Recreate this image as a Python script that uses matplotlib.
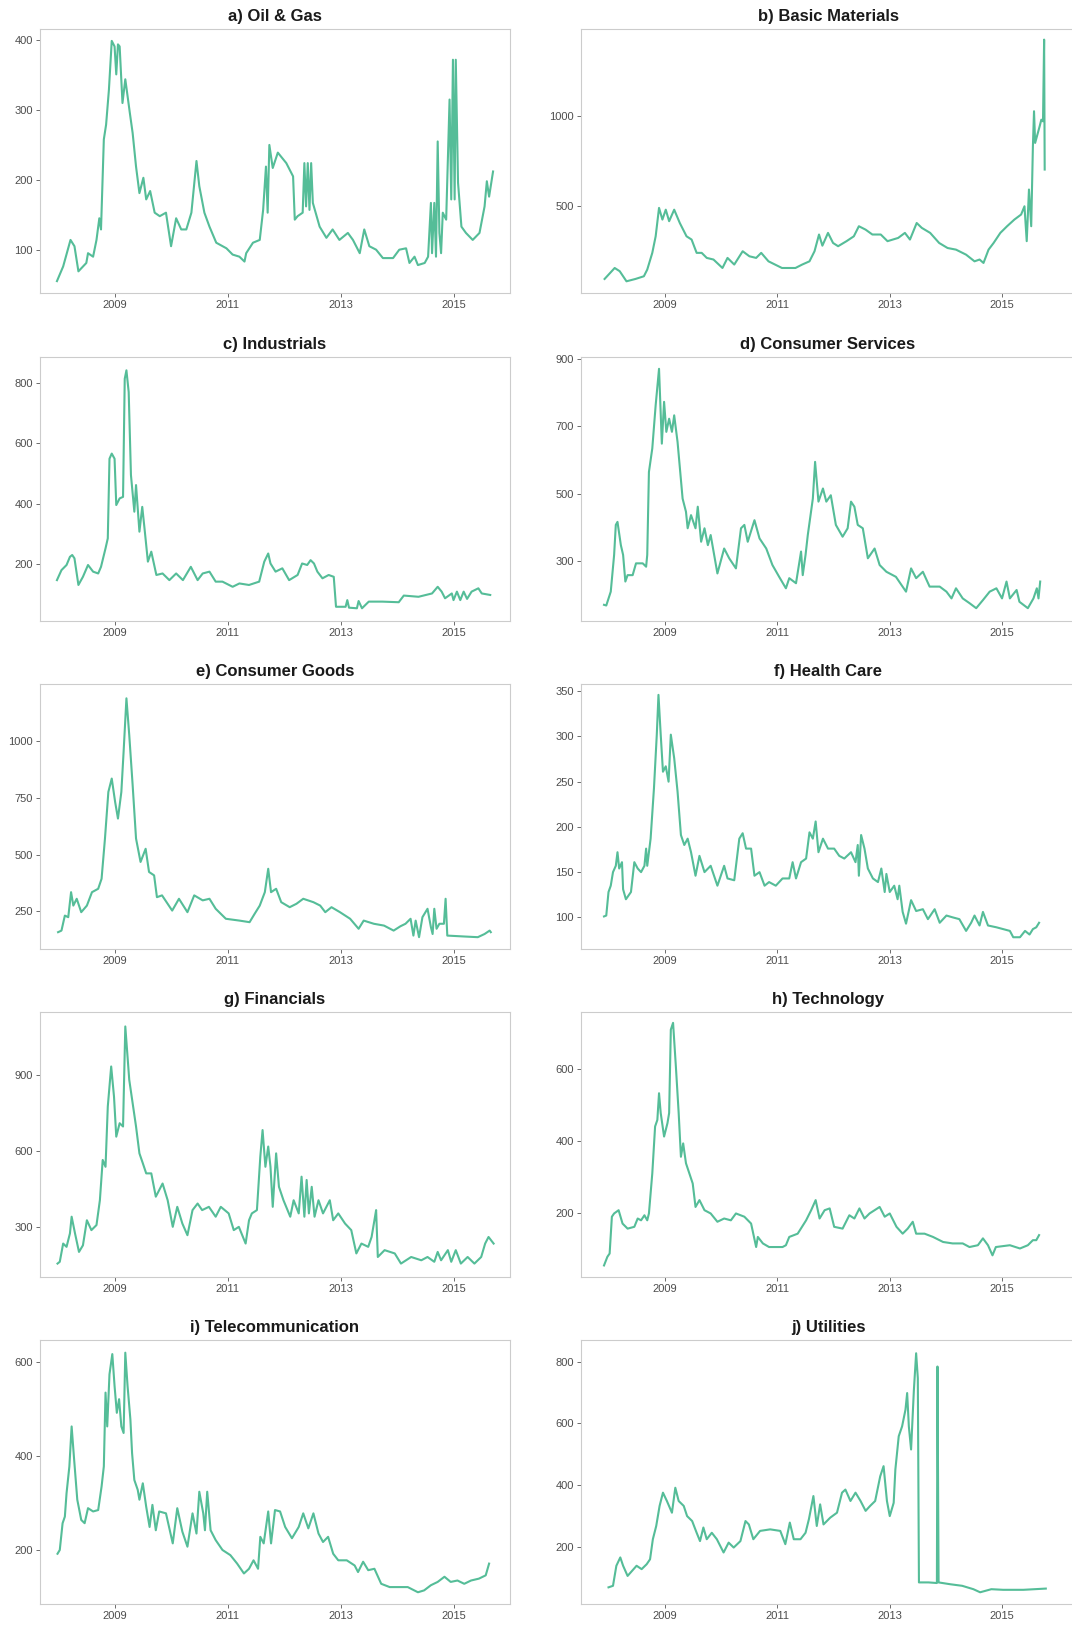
import matplotlib
matplotlib.use("Agg")
import matplotlib.pyplot as plt

plt.rcParams['font.family'] = ['Liberation Sans', 'DejaVu Sans']

# weekly sector series, (decimal year, value)
oil_gas = [(2007.98, 55), (2008.09, 76), (2008.22, 114), (2008.29, 105), (2008.36, 69), (2008.50, 81),
           (2008.53, 95), (2008.62, 90), (2008.68, 114), (2008.73, 145), (2008.76, 129), (2008.81, 258),
           (2008.85, 279), (2008.90, 329), (2008.95, 399), (2009.00, 391), (2009.03, 351), (2009.06, 394),
           (2009.09, 391), (2009.14, 310), (2009.19, 344), (2009.27, 296), (2009.32, 267), (2009.38, 219),
           (2009.44, 181), (2009.51, 203), (2009.56, 172), (2009.63, 184), (2009.71, 153), (2009.80, 148),
           (2009.91, 153), (2010.00, 105), (2010.09, 145), (2010.18, 129), (2010.27, 129), (2010.36, 153),
           (2010.45, 227), (2010.50, 191), (2010.59, 153), (2010.68, 133), (2010.80, 110), (2010.98, 102),
           (2011.09, 93), (2011.21, 90), (2011.30, 83), (2011.33, 95), (2011.45, 110), (2011.57, 114),
           (2011.63, 157), (2011.68, 219), (2011.71, 153), (2011.74, 250), (2011.80, 217), (2011.89, 239),
           (2012.04, 224), (2012.16, 205), (2012.19, 143), (2012.24, 148), (2012.33, 153), (2012.36, 224),
           (2012.39, 162), (2012.42, 224), (2012.45, 157), (2012.48, 224), (2012.51, 167), (2012.63, 133),
           (2012.75, 117), (2012.86, 129), (2012.98, 114), (2013.13, 124), (2013.22, 114), (2013.34, 95),
           (2013.42, 129), (2013.51, 105), (2013.63, 100), (2013.75, 88), (2013.93, 88), (2014.04, 100),
           (2014.16, 102), (2014.22, 81), (2014.31, 90), (2014.37, 78), (2014.49, 81), (2014.55, 90),
           (2014.60, 167), (2014.62, 95), (2014.66, 167), (2014.69, 90), (2014.72, 255), (2014.75, 124),
           (2014.78, 95), (2014.81, 153), (2014.87, 143), (2014.93, 315), (2014.96, 172), (2014.99, 372),
           (2015.02, 172), (2015.04, 372), (2015.08, 196), (2015.14, 133), (2015.22, 124), (2015.34, 114),
           (2015.46, 124), (2015.55, 162), (2015.59, 198), (2015.63, 176), (2015.70, 212)]

basic_materials = [(2007.92, 96), (2008.10, 157), (2008.19, 139), (2008.31, 83), (2008.47, 96), (2008.62, 111),
                   (2008.68, 148), (2008.77, 241), (2008.83, 333), (2008.89, 491), (2008.95, 426), (2009.01, 481),
                   (2009.07, 417), (2009.16, 481), (2009.26, 407), (2009.38, 333), (2009.47, 315), (2009.56, 241),
                   (2009.65, 241), (2009.74, 213), (2009.86, 204), (2010.02, 157), (2010.11, 213), (2010.23, 176),
                   (2010.38, 250), (2010.50, 222), (2010.62, 213), (2010.71, 241), (2010.84, 194), (2011.08, 157),
                   (2011.32, 157), (2011.44, 176), (2011.57, 194), (2011.66, 250), (2011.74, 343), (2011.80, 281),
                   (2011.90, 352), (2011.99, 296), (2012.08, 278), (2012.23, 306), (2012.36, 333), (2012.45, 389),
                   (2012.57, 370), (2012.69, 343), (2012.84, 343), (2012.96, 306), (2013.15, 324), (2013.27, 352),
                   (2013.36, 315), (2013.48, 407), (2013.57, 380), (2013.72, 352), (2013.88, 296), (2014.03, 268),
                   (2014.18, 259), (2014.36, 231), (2014.51, 194), (2014.60, 204), (2014.67, 185), (2014.76, 259),
                   (2014.85, 296), (2014.97, 352), (2015.09, 389), (2015.22, 426), (2015.34, 454), (2015.40, 500),
                   (2015.44, 306), (2015.48, 593), (2015.52, 389), (2015.55, 833), (2015.57, 1028), (2015.59, 852),
                   (2015.67, 944), (2015.70, 981), (2015.73, 972), (2015.75, 1426), (2015.76, 704)]

industrials = [(2007.98, 148), (2008.06, 181), (2008.15, 198), (2008.21, 225), (2008.25, 231), (2008.29, 220),
               (2008.36, 132), (2008.44, 159), (2008.53, 198), (2008.62, 176), (2008.71, 170), (2008.76, 192),
               (2008.84, 253), (2008.88, 286), (2008.91, 549), (2008.95, 566), (2009.00, 549), (2009.03, 396),
               (2009.09, 418), (2009.15, 423), (2009.18, 813), (2009.21, 841), (2009.25, 769), (2009.29, 495),
               (2009.35, 374), (2009.38, 462), (2009.44, 308), (2009.49, 390), (2009.53, 319), (2009.59, 209),
               (2009.65, 242), (2009.74, 165), (2009.85, 170), (2009.97, 148), (2010.09, 170), (2010.21, 148),
               (2010.35, 192), (2010.47, 148), (2010.56, 170), (2010.68, 176), (2010.79, 143), (2010.91, 143),
               (2011.09, 126), (2011.21, 137), (2011.38, 132), (2011.56, 143), (2011.65, 209), (2011.72, 236),
               (2011.76, 203), (2011.85, 176), (2011.97, 187), (2012.09, 148), (2012.24, 165), (2012.32, 203),
               (2012.41, 198), (2012.47, 214), (2012.53, 203), (2012.59, 176), (2012.68, 154), (2012.79, 165),
               (2012.88, 159), (2012.92, 60), (2013.09, 60), (2013.12, 82), (2013.15, 57), (2013.29, 55),
               (2013.32, 79), (2013.38, 55), (2013.50, 77), (2013.74, 77), (2014.03, 75), (2014.12, 97),
               (2014.38, 93), (2014.62, 104), (2014.72, 126), (2014.79, 110), (2014.85, 88), (2014.97, 104),
               (2015.00, 82), (2015.06, 110), (2015.12, 82), (2015.18, 110), (2015.24, 86), (2015.32, 110),
               (2015.44, 121), (2015.50, 104), (2015.65, 99)]

consumer_services = [(2007.91, 170), (2007.95, 168), (2008.03, 209), (2008.09, 318), (2008.12, 407), (2008.15, 416),
                     (2008.21, 347), (2008.25, 318), (2008.29, 239), (2008.33, 258), (2008.42, 258), (2008.48, 293),
                     (2008.60, 293), (2008.66, 283), (2008.68, 318), (2008.71, 564), (2008.77, 634), (2008.83, 762),
                     (2008.89, 870), (2008.94, 648), (2008.98, 772), (2009.02, 683), (2009.07, 722), (2009.12, 683),
                     (2009.16, 732), (2009.22, 653), (2009.31, 485), (2009.37, 446), (2009.40, 397), (2009.46, 436),
                     (2009.54, 397), (2009.58, 461), (2009.64, 357), (2009.70, 397), (2009.76, 347), (2009.81, 377),
                     (2009.93, 263), (2010.05, 337), (2010.14, 308), (2010.26, 278), (2010.35, 397), (2010.41, 407),
                     (2010.47, 357), (2010.59, 421), (2010.68, 367), (2010.80, 337), (2010.91, 288), (2011.03, 253),
                     (2011.15, 219), (2011.21, 249), (2011.33, 234), (2011.42, 328), (2011.45, 258), (2011.50, 318),
                     (2011.54, 377), (2011.63, 485), (2011.67, 594), (2011.73, 476), (2011.81, 515), (2011.87, 476),
                     (2011.95, 495), (2012.04, 407), (2012.16, 372), (2012.25, 397), (2012.31, 476), (2012.37, 461),
                     (2012.43, 407), (2012.52, 397), (2012.61, 308), (2012.73, 337), (2012.82, 288), (2012.94, 268),
                     (2013.11, 253), (2013.29, 209), (2013.38, 278), (2013.47, 249), (2013.59, 268), (2013.71, 224),
                     (2013.89, 224), (2014.01, 209), (2014.10, 189), (2014.18, 219), (2014.30, 189), (2014.42, 175),
                     (2014.54, 160), (2014.66, 184), (2014.78, 209), (2014.90, 219), (2015.00, 189), (2015.08, 239),
                     (2015.14, 189), (2015.26, 214), (2015.31, 179), (2015.46, 160), (2015.56, 189), (2015.62, 219),
                     (2015.65, 189), (2015.68, 239)]

consumer_goods = [(2008.00, 159), (2008.06, 166), (2008.12, 232), (2008.18, 225), (2008.23, 335), (2008.27, 276),
                  (2008.33, 306), (2008.41, 247), (2008.51, 276), (2008.60, 335), (2008.71, 350), (2008.77, 394),
                  (2008.83, 571), (2008.89, 776), (2008.95, 835), (2009.01, 732), (2009.06, 659), (2009.12, 776),
                  (2009.16, 953), (2009.21, 1188), (2009.26, 1026), (2009.32, 806), (2009.38, 571), (2009.46, 468),
                  (2009.55, 526), (2009.61, 424), (2009.70, 409), (2009.75, 313), (2009.84, 321), (2010.02, 254),
                  (2010.14, 306), (2010.29, 247), (2010.41, 321), (2010.56, 299), (2010.68, 306), (2010.79, 262),
                  (2010.97, 218), (2011.21, 210), (2011.39, 203), (2011.48, 240), (2011.57, 276), (2011.66, 335),
                  (2011.72, 438), (2011.77, 335), (2011.86, 350), (2011.95, 291), (2012.10, 269), (2012.22, 284),
                  (2012.34, 306), (2012.52, 291), (2012.64, 276), (2012.73, 247), (2012.84, 269), (2012.99, 247),
                  (2013.17, 218), (2013.32, 174), (2013.41, 210), (2013.59, 196), (2013.77, 188), (2013.94, 166),
                  (2014.06, 185), (2014.15, 196), (2014.24, 218), (2014.29, 144), (2014.33, 210), (2014.39, 137),
                  (2014.45, 225), (2014.54, 262), (2014.60, 181), (2014.63, 151), (2014.66, 262), (2014.70, 174),
                  (2014.75, 196), (2014.83, 196), (2014.86, 306), (2014.89, 144), (2015.19, 140), (2015.43, 137),
                  (2015.55, 151), (2015.64, 166), (2015.66, 159)]

health_care = [(2007.91, 101), (2007.95, 102), (2007.99, 128), (2008.03, 135), (2008.07, 150), (2008.12, 157),
               (2008.15, 172), (2008.18, 154), (2008.23, 161), (2008.25, 131), (2008.30, 120), (2008.39, 128),
               (2008.45, 161), (2008.51, 154), (2008.57, 150), (2008.63, 157), (2008.66, 176), (2008.68, 157),
               (2008.74, 187), (2008.80, 243), (2008.85, 302), (2008.88, 346), (2008.92, 302), (2008.96, 261),
               (2009.01, 267), (2009.06, 250), (2009.10, 302), (2009.16, 276), (2009.22, 239), (2009.28, 191),
               (2009.34, 180), (2009.40, 187), (2009.46, 172), (2009.54, 146), (2009.61, 168), (2009.70, 150),
               (2009.81, 157), (2009.93, 135), (2010.05, 157), (2010.11, 143), (2010.23, 141), (2010.32, 187),
               (2010.38, 193), (2010.44, 176), (2010.53, 176), (2010.59, 146), (2010.68, 150), (2010.77, 135),
               (2010.85, 139), (2010.97, 135), (2011.09, 143), (2011.21, 143), (2011.27, 161), (2011.33, 143),
               (2011.42, 161), (2011.51, 165), (2011.57, 194), (2011.63, 187), (2011.68, 206), (2011.73, 172),
               (2011.81, 187), (2011.90, 176), (2012.01, 176), (2012.10, 168), (2012.19, 165), (2012.31, 172),
               (2012.39, 161), (2012.43, 180), (2012.45, 146), (2012.49, 191), (2012.55, 176), (2012.61, 154),
               (2012.70, 143), (2012.79, 139), (2012.85, 154), (2012.91, 128), (2012.94, 148), (2013.00, 128),
               (2013.08, 135), (2013.14, 120), (2013.17, 135), (2013.23, 106), (2013.29, 93), (2013.38, 119),
               (2013.47, 107), (2013.59, 109), (2013.68, 98), (2013.80, 109), (2013.89, 94), (2014.01, 102),
               (2014.12, 100), (2014.24, 98), (2014.36, 85), (2014.45, 94), (2014.51, 102), (2014.60, 91),
               (2014.66, 106), (2014.75, 91), (2014.90, 89), (2015.02, 87), (2015.14, 85), (2015.20, 78),
               (2015.32, 78), (2015.41, 85), (2015.49, 81), (2015.55, 87), (2015.61, 89), (2015.66, 94)]

financials = [(2007.99, 155), (2008.03, 162), (2008.09, 234), (2008.15, 221), (2008.21, 274), (2008.24, 340),
              (2008.30, 274), (2008.37, 201), (2008.44, 227), (2008.51, 326), (2008.59, 287), (2008.68, 307),
              (2008.74, 405), (2008.79, 564), (2008.84, 537), (2008.88, 775), (2008.94, 933), (2008.99, 814),
              (2009.03, 656), (2009.09, 709), (2009.15, 696), (2009.19, 1091), (2009.26, 880), (2009.32, 788),
              (2009.38, 696), (2009.44, 590), (2009.50, 551), (2009.56, 511), (2009.65, 511), (2009.73, 419),
              (2009.85, 471), (2009.94, 405), (2010.03, 300), (2010.11, 379), (2010.20, 313), (2010.29, 267),
              (2010.38, 366), (2010.47, 392), (2010.55, 366), (2010.67, 379), (2010.79, 340), (2010.88, 379),
              (2011.02, 353), (2011.11, 287), (2011.20, 300), (2011.32, 234), (2011.38, 326), (2011.43, 353),
              (2011.52, 366), (2011.58, 577), (2011.62, 682), (2011.67, 537), (2011.72, 617), (2011.76, 537),
              (2011.80, 379), (2011.86, 590), (2011.91, 458), (2011.99, 405), (2012.11, 340), (2012.17, 405),
              (2012.26, 353), (2012.31, 498), (2012.36, 340), (2012.40, 485), (2012.44, 353), (2012.49, 458),
              (2012.54, 340), (2012.61, 405), (2012.69, 353), (2012.81, 405), (2012.87, 326), (2012.96, 353),
              (2013.08, 313), (2013.19, 287), (2013.28, 195), (2013.37, 234), (2013.49, 221), (2013.55, 260),
              (2013.60, 326), (2013.63, 366), (2013.66, 181), (2013.78, 208), (2013.96, 195), (2014.07, 155),
              (2014.25, 181), (2014.43, 168), (2014.54, 181), (2014.66, 162), (2014.72, 201), (2014.78, 168),
              (2014.90, 208), (2014.96, 162), (2015.04, 208), (2015.13, 155), (2015.25, 181), (2015.37, 155),
              (2015.49, 181), (2015.56, 234), (2015.62, 260), (2015.71, 234)]

technology = [(2007.91, 56), (2007.97, 80), (2008.01, 89), (2008.05, 191), (2008.09, 200), (2008.17, 209),
              (2008.24, 172), (2008.33, 158), (2008.45, 163), (2008.51, 186), (2008.57, 181), (2008.63, 195),
              (2008.68, 181), (2008.71, 200), (2008.77, 311), (2008.82, 441), (2008.86, 459), (2008.89, 533),
              (2008.92, 478), (2008.98, 413), (2009.04, 450), (2009.07, 478), (2009.10, 709), (2009.14, 728),
              (2009.19, 607), (2009.24, 478), (2009.28, 357), (2009.32, 394), (2009.37, 339), (2009.43, 311),
              (2009.49, 283), (2009.54, 218), (2009.61, 237), (2009.70, 209), (2009.81, 200), (2009.93, 177),
              (2010.05, 186), (2010.17, 181), (2010.26, 200), (2010.41, 191), (2010.53, 172), (2010.62, 107),
              (2010.65, 135), (2010.74, 117), (2010.85, 107), (2011.09, 107), (2011.15, 112), (2011.21, 135),
              (2011.36, 144), (2011.51, 181), (2011.60, 209), (2011.68, 237), (2011.75, 186), (2011.84, 209),
              (2011.93, 214), (2012.01, 163), (2012.16, 158), (2012.28, 195), (2012.37, 186), (2012.46, 214),
              (2012.55, 186), (2012.64, 200), (2012.73, 209), (2012.82, 218), (2012.91, 191), (2013.00, 200),
              (2013.12, 163), (2013.23, 144), (2013.32, 158), (2013.41, 177), (2013.47, 144), (2013.62, 144),
              (2013.77, 135), (2013.95, 121), (2014.12, 117), (2014.30, 117), (2014.42, 107), (2014.57, 112),
              (2014.66, 131), (2014.75, 112), (2014.83, 84), (2014.89, 107), (2015.14, 112), (2015.32, 103),
              (2015.46, 112), (2015.55, 126), (2015.61, 126), (2015.66, 140)]

telecommunication = [(2007.99, 191), (2008.03, 199), (2008.08, 256), (2008.12, 270), (2008.15, 320), (2008.20, 377),
                     (2008.24, 462), (2008.28, 398), (2008.34, 306), (2008.41, 263), (2008.47, 256), (2008.53, 288),
                     (2008.62, 281), (2008.71, 284), (2008.77, 334), (2008.81, 377), (2008.84, 534), (2008.87, 462),
                     (2008.91, 573), (2008.96, 616), (2009.00, 548), (2009.04, 491), (2009.08, 520), (2009.12, 462),
                     (2009.16, 448), (2009.19, 619), (2009.23, 548), (2009.28, 477), (2009.31, 405), (2009.35, 348),
                     (2009.41, 327), (2009.44, 306), (2009.50, 341), (2009.56, 291), (2009.62, 248), (2009.67, 295),
                     (2009.73, 241), (2009.79, 281), (2009.91, 277), (2010.03, 213), (2010.11, 288), (2010.20, 238),
                     (2010.29, 206), (2010.38, 277), (2010.45, 234), (2010.50, 323), (2010.57, 277), (2010.60, 241),
                     (2010.64, 323), (2010.70, 241), (2010.79, 220), (2010.91, 199), (2011.05, 188), (2011.17, 170),
                     (2011.29, 149), (2011.38, 159), (2011.46, 177), (2011.54, 159), (2011.58, 227), (2011.64, 213),
                     (2011.72, 281), (2011.77, 213), (2011.84, 284), (2011.93, 281), (2012.02, 248), (2012.14, 224),
                     (2012.26, 248), (2012.34, 277), (2012.43, 245), (2012.52, 277), (2012.61, 234), (2012.69, 216),
                     (2012.78, 227), (2012.87, 191), (2012.96, 177), (2013.11, 177), (2013.25, 166), (2013.31, 152),
                     (2013.40, 174), (2013.49, 156), (2013.60, 159), (2013.72, 127), (2013.87, 120), (2014.01, 120),
                     (2014.19, 120), (2014.37, 109), (2014.48, 113), (2014.60, 124), (2014.72, 131), (2014.84, 142),
                     (2014.95, 131), (2015.07, 134), (2015.19, 127), (2015.31, 134), (2015.45, 138), (2015.57, 145),
                     (2015.63, 170)]

utilities = [(2007.99, 68), (2008.07, 73), (2008.09, 95), (2008.13, 138), (2008.20, 165), (2008.25, 138),
             (2008.33, 105), (2008.49, 138), (2008.58, 127), (2008.67, 143), (2008.73, 159), (2008.78, 224),
             (2008.84, 267), (2008.90, 332), (2008.96, 375), (2009.03, 348), (2009.12, 310), (2009.18, 391),
             (2009.24, 348), (2009.33, 332), (2009.39, 299), (2009.48, 283), (2009.56, 245), (2009.62, 218),
             (2009.68, 262), (2009.74, 224), (2009.83, 245), (2009.92, 224), (2010.04, 181), (2010.13, 213),
             (2010.22, 197), (2010.34, 218), (2010.43, 283), (2010.49, 272), (2010.57, 224), (2010.69, 251),
             (2010.87, 256), (2011.05, 251), (2011.14, 208), (2011.22, 278), (2011.29, 224), (2011.41, 224),
             (2011.50, 245), (2011.56, 289), (2011.64, 364), (2011.70, 267), (2011.76, 337), (2011.82, 272),
             (2011.94, 294), (2012.06, 310), (2012.15, 375), (2012.21, 385), (2012.30, 348), (2012.39, 375),
             (2012.48, 348), (2012.57, 316), (2012.65, 332), (2012.74, 348), (2012.83, 428), (2012.89, 461),
             (2012.95, 348), (2013.00, 299), (2013.07, 342), (2013.10, 450), (2013.16, 558), (2013.22, 590),
             (2013.28, 644), (2013.31, 698), (2013.34, 590), (2013.38, 515), (2013.43, 708), (2013.47, 827),
             (2013.50, 746), (2013.52, 84), (2013.69, 84), (2013.84, 82), (2013.85, 784), (2013.87, 84),
             (2014.08, 78), (2014.29, 73), (2014.49, 62), (2014.61, 52), (2014.81, 62), (2015.02, 60),
             (2015.38, 60), (2015.78, 64)]

titles = ['a) Oil & Gas', 'b) Basic Materials', 'c) Industrials', 'd) Consumer Services',
          'e) Consumer Goods', 'f) Health Care', 'g) Financials', 'h) Technology',
          'i) Telecommunication', 'j) Utilities']
series = [oil_gas, basic_materials, industrials, consumer_services, consumer_goods,
          health_care, financials, technology, telecommunication, utilities]
yticks = [[100, 200, 300, 400], [500, 1000], [200, 400, 600, 800], [300, 500, 700, 900],
          [250, 500, 750, 1000], [100, 150, 200, 250, 300, 350], [300, 600, 900],
          [200, 400, 600], [200, 400, 600], [200, 400, 600, 800]]
ylims = [(38, 416), (18, 1485), (13, 885), (122, 905), (85, 1251),
         (65, 358), (102, 1148), (24, 758), (84, 646), (14, 870)]
xticks = [2009, 2011, 2013, 2015]

line_color = '#55bd98'

W, H = 1072, 1625
fig = plt.figure(figsize=(W / 100, H / 100), dpi=100)

# panel frames in pixels: columns (left, right, xlim) and rows (top, bottom)
cols = [(40, 510, (2007.68, 2016.0)), (581, 1075, (2007.5, 2016.3))]
rows = [(29, 293), (357, 621), (684, 949), (1012, 1277), (1340, 1604)]

for i, (title, data) in enumerate(zip(titles, series)):
    left, right, xlim = cols[i % 2]
    top, bottom = rows[i // 2]
    ax = fig.add_axes([left / W, 1 - bottom / H, (right - left) / W, (bottom - top) / H])
    t = [p[0] for p in data]
    v = [p[1] for p in data]
    ax.plot(t, v, color=line_color, lw=1.5, solid_joinstyle='round')
    ax.set_xlim(*xlim)
    ax.set_ylim(*ylims[i])
    ax.set_xticks(xticks)
    ax.set_xticklabels([str(x) for x in xticks])
    ax.set_yticks(yticks[i])
    ax.set_title(title, fontsize=12, fontweight='bold', pad=6, color='#1a1a1a')
    for s in ax.spines.values():
        s.set_color('#cccccc')
        s.set_linewidth(0.8)
    ax.tick_params(labelsize=8, labelcolor='#4d4d4d', color='#555555',
                   length=3, width=0.6, pad=2)

fig.savefig('out.png', dpi=100, facecolor='white')
